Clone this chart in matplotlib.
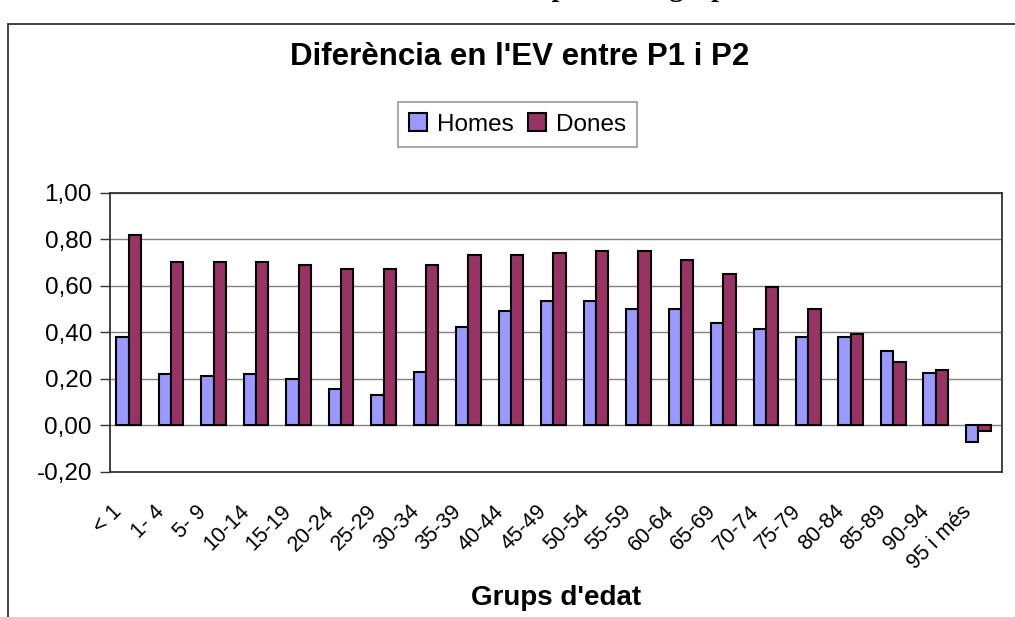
import numpy as np
import matplotlib
matplotlib.use("Agg")
import matplotlib.pyplot as plt
from matplotlib.patches import Rectangle
from matplotlib.ticker import FuncFormatter
from matplotlib.transforms import ScaledTranslation

# age groups and difference in life expectancy (P1 - P2)
grups = ["< 1", "1- 4", "5- 9", "10-14", "15-19", "20-24", "25-29", "30-34",
         "35-39", "40-44", "45-49", "50-54", "55-59", "60-64", "65-69",
         "70-74", "75-79", "80-84", "85-89", "90-94", "95 i més"]
homes = [0.38, 0.22, 0.21, 0.22, 0.20, 0.155, 0.13, 0.23, 0.42, 0.49, 0.535,
         0.535, 0.50, 0.50, 0.44, 0.415, 0.38, 0.38, 0.32, 0.225, -0.075]
dones = [0.82, 0.70, 0.70, 0.70, 0.69, 0.67, 0.67, 0.69, 0.73, 0.73, 0.74,
         0.75, 0.75, 0.71, 0.65, 0.595, 0.50, 0.39, 0.27, 0.235, -0.025]

W, H = 1015, 617
fig = plt.figure(figsize=(W / 100, H / 100), dpi=100)
fig.patch.set_facecolor("white")

# outer chart box (extends past the picture on right and bottom)
fig.patches.append(Rectangle((8 / W, -0.05), 1.1, 1 - 24 / H + 0.05,
                             transform=fig.transFigure, fill=False,
                             edgecolor="#333333", linewidth=1.3))

# caption line above the chart, cut off by the top edge (only descenders show)
fig.text(572 / W, 1 + 4.5 / H, "Diferència en l'EV per sexe i grups d'edat",
         family="Liberation Serif", weight="bold", fontsize=20,
         ha="center", va="baseline")

ax = fig.add_axes([110 / W, 1 - 471.5 / H, (1002 - 110) / W, (471.5 - 192.7) / H])

x = np.arange(len(grups))
bw = 0.29
ax.bar(x - bw / 2 - 0.06, homes, bw, color="#9999FF", edgecolor="black",
       linewidth=1.5, label="Homes", zorder=3)
ax.bar(x + bw / 2 - 0.06, dones, bw, color="#993366", edgecolor="black",
       linewidth=1.5, label="Dones", zorder=3)

ax.set_xlim(-0.5, len(grups) - 0.5)
ax.set_ylim(-0.2, 1.0)
ax.set_yticks(np.arange(-0.2, 1.01, 0.2))
ax.yaxis.set_major_formatter(FuncFormatter(lambda v, p: ("%.2f" % v).replace(".", ",").replace("-0,00", "0,00")))
ax.grid(axis="y", color="#808080", linewidth=1.0, zorder=0)
ax.set_axisbelow(True)

for s in ax.spines.values():
    s.set_color("#333333")
    s.set_linewidth(1.3)

ax.tick_params(axis="y", direction="out", length=7, width=1, color="#333333",
               labelsize=17.5, pad=6)
ax.set_xticks(x)
ax.set_xticklabels(grups, rotation=45, ha="right", rotation_mode="anchor",
                   fontsize=15.5)
ax.tick_params(axis="x", length=0, pad=4)
shift = ScaledTranslation(-20 / 100, -24 / 100, fig.dpi_scale_trans)
for lab in ax.get_xticklabels():
    lab.set_transform(lab.get_transform() + shift)
for lab in ax.get_xticklabels() + ax.get_yticklabels():
    lab.set_family("Liberation Sans")

fig.text(520 / W, 1 - 57 / H, "Diferència en l'EV entre P1 i P2",
         family="Liberation Sans", weight="bold", fontsize=22.5,
         ha="center", va="center")

fig.text(556 / W, 1 - 598 / H, "Grups d'edat", family="Liberation Sans",
         weight="bold", fontsize=20, ha="center", va="center")

leg = fig.legend(loc="center", bbox_to_anchor=(517.5 / W, 1 - 124.5 / H),
                 ncol=2, frameon=True, fancybox=False, edgecolor="#808080",
                 prop={"family": "Liberation Sans", "size": 17.5},
                 handlelength=0.75, handleheight=0.75, handletextpad=0.4,
                 columnspacing=0.6, borderpad=0.45)
leg.get_frame().set_linewidth(1.2)

fig.savefig("out.png", dpi=100)
